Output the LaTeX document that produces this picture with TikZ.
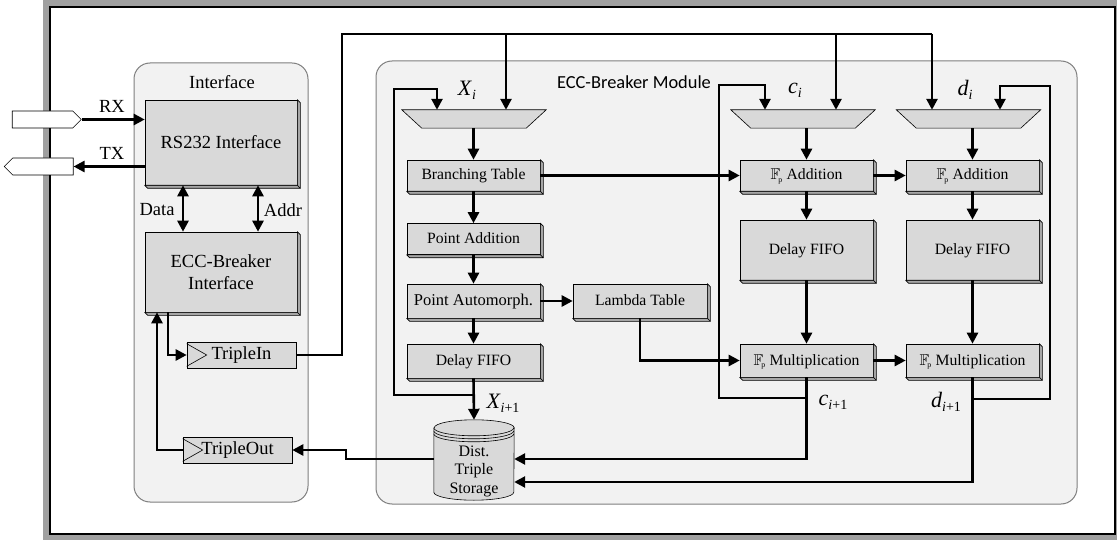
\documentclass[tikz,border=0pt]{standalone}
\usepackage{fontspec}
\setmainfont{Liberation Serif}
\newfontfamily\carlitofont{Carlito}
\usepackage{amssymb}
\usetikzlibrary{arrows.meta,shapes.symbols}
\definecolor{boxg}{HTML}{D9D9D9}
\definecolor{shadg}{HTML}{A6A6A6}
\definecolor{contg}{HTML}{F2F2F2}
\definecolor{frameg}{HTML}{A0A0A0}
\definecolor{contline}{HTML}{7F7F7F}
\newcommand\mylab[2]{\fontsize{22}{22}\selectfont\textit{#1}\raisebox{-0.4ex}{\fontsize{14}{14}\selectfont #2}}
\newcommand\Fp{$\mathbb{F}_{\!\scriptscriptstyle\mathrm{p}}$}
\tikzset{
  blk/.style={draw=black, line width=0.6pt, fill=boxg, inner sep=0pt,
    minimum width=133pt, minimum height=31pt, font=\fontsize{15.7}{17}\selectfont,
    text height=11.5pt, text depth=2.5pt},
  bigblk/.style={blk, minimum width=152pt, align=center, font=\fontsize{18.5}{22}\selectfont,
    text height=, text depth=},
  regbox/.style={draw=black, line width=0.6pt, fill=boxg, inner sep=0pt,
    minimum width=109pt, minimum height=26pt, font=\fontsize{18.5}{20}\selectfont},
  muxbox/.style={draw=none, inner sep=0pt, minimum width=144pt, minimum height=18pt},
  cont/.style={draw=contline, line width=1pt, fill=contg, rounded corners=16pt},
  port/.style={signal, draw=black, line width=0.6pt, fill=white, inner sep=0pt,
    minimum width=69pt, minimum height=17pt},
  bevel/.style={fill=shadg, draw=black, line width=0.6pt, line join=round},
  ln/.style={line width=2.6pt},
  arr/.style={line width=2.6pt, -{Triangle[length=11pt,width=11pt]}},
  darr/.style={line width=2.6pt, {Triangle[length=11pt,width=11pt]}-{Triangle[length=11pt,width=11pt]}},
  lbl/.style={font=\fontsize{18.5}{20}\selectfont, inner sep=0pt},
}
\begin{document}
\begin{tikzpicture}[x=1pt,y=-1pt]
\useasboundingbox (0,0) rectangle (1117,540);
% outer frame
\fill[frameg] (43,0) rectangle (1117,540);
\draw[fill=white, line width=1.2pt] (50,7) rectangle (1115,534);
% containers
\draw[cont] (134,63) rectangle (308,502);
\draw[cont] (376,61) rectangle (1077,504);
\node[lbl] (tif) at (222,82) {Interface};
\node[inner sep=0pt, font=\carlitofont\fontsize{18.4}{20}\selectfont] (tmod) at (634,82) {ECC-Breaker Module};

% interface blocks
\node[bigblk, minimum height=85pt] (rs232) at (221,142.5) {RS232 Interface};
\node[bigblk, minimum height=80pt] (eccif) at (221,272) {ECC-Breaker\\Interface};
\node[regbox] (tin) at (241.5,355) {TripleIn};
\node[regbox] (tout) at (237.5,450) {TripleOut};
\draw[line width=0.6pt] ([yshift=-2pt]tin.north west) -- ([xshift=20pt]tin.west) -- ([yshift=2pt]tin.south west);
\draw[line width=0.6pt] ([yshift=-2pt]tout.north west) -- ([xshift=20pt]tout.west) -- ([yshift=2pt]tout.south west);

% ports
\node[port, signal to=east] (rxp) at (42.5,119.5) {};
\node[port, signal to=west] (txp) at (43,166.5) {};
\node[lbl] (rxl) at (112,106) {RX};
\node[lbl] (txl) at (112,153) {TX};

% module blocks
\node[blk] (bt) at (473.5,175.5) {Branching Table};
\node[blk] (pa) at (473.5,239) {Point Addition};
\node[blk, minimum height=34pt, font=\fontsize{16.5}{18}\selectfont] (pam) at (473.5,301) {Point Automorph.};
\node[blk, minimum height=34pt] (dfx) at (473.5,361) {Delay FIFO};
\node[blk, minimum height=34pt, minimum width=134pt] (lt) at (640,301) {Lambda Table};
\node[blk] (cadd) at (806.5,175.5) {\Fp{} Addition};
\node[blk, minimum height=60pt] (cdf) at (806.5,250) {Delay FIFO};
\node[blk, minimum height=33pt] (cmul) at (806.5,360.5) {\Fp{} Multiplication};
\node[blk] (dadd) at (972.5,175.5) {\Fp{} Addition};
\node[blk, minimum height=60pt] (ddf) at (972.5,250) {Delay FIFO};
\node[blk, minimum height=33pt] (dmul) at (972.5,360.5) {\Fp{} Multiplication};
% 3D bevels
\foreach \b in {rs232,eccif,bt,pa,pam,dfx,lt,cadd,cdf,cmul,dadd,ddf,dmul}{
  \draw[bevel] (\b.north east) -- ([shift={(3pt,-3pt)}]\b.north east) -- ([shift={(3pt,-3pt)}]\b.south east) -- (\b.south east) -- cycle;
  \draw[bevel] (\b.south west) -- (\b.south east) -- ([shift={(3pt,-3pt)}]\b.south east) -- ([shift={(3pt,-3pt)}]\b.south west) -- cycle;
}

% muxes
\node[muxbox] (mx) at (474,119) {};
\node[muxbox] (mc) at (803,119) {};
\node[muxbox] (md) at (968.5,119) {};
\foreach \m in {mx,mc,md}
  \draw[fill=boxg, line width=0.6pt] (\m.north west) -- (\m.north east) -- ([xshift=-20pt]\m.south east) -- ([xshift=20pt]\m.south west) -- cycle;
\node[inner sep=0pt] (lxi) at (467,90) {\mylab{X}{\textit{i}}};
\node[inner sep=0pt] (lci) at (795,90) {\mylab{c}{\textit{i}}};
\node[inner sep=0pt] (ldi) at (965,90) {\mylab{d}{\textit{i}}};
\node[inner sep=0pt] (lxo) at (503,403) {\mylab{X}{\textit{i}+1}};
\node[inner sep=0pt] (lco) at (833,402) {\mylab{c}{\textit{i}+1}};
\node[inner sep=0pt] (ldo) at (946,402) {\mylab{d}{\textit{i}+1}};

% storage cylinder
\node[draw=none, inner sep=0pt, minimum width=80pt, minimum height=80pt] (storage) at (474,460) {};
\filldraw[fill=boxg, draw=black, line width=0.6pt] ([yshift=-8pt]storage.north west) -- ([yshift=8pt]storage.south west)
  arc[start angle=180, end angle=360, x radius=40pt, y radius=8pt] -- ([yshift=-8pt]storage.north east)
  arc[start angle=0, end angle=180, x radius=40pt, y radius=8pt] -- cycle;
\foreach \s in {8,11,14}
  \draw[line width=0.6pt] ([yshift=-\s pt]storage.north west) arc[start angle=180, end angle=360, x radius=40pt, y radius=8pt];
\node[inner sep=0pt, align=center, font=\fontsize{16}{18.5}\selectfont] (stl) at (474,471) {Dist.\\Triple\\Storage};

% interface connectors
\draw[arr] (rxp.east) -- (rxp.east -| rs232.west);
\draw[arr] (txp.east -| rs232.west) -- (txp.east);
\draw[darr] ([xshift=-38pt]rs232.south) -- ([xshift=-38pt]eccif.north);
\draw[darr] ([xshift=37pt]rs232.south) -- ([xshift=37pt]eccif.north);
\node[lbl] (ldata) at (157,210) {Data};
\node[lbl] (laddr) at (283,210) {Addr};
\draw[arr] ([xshift=-53pt]eccif.south) |- (tin.west);
\draw[arr] (tout.west) -| ([xshift=-64pt]eccif.south);

% bus from TripleIn
\coordinate (bus) at (342,34);
\coordinate (busx) at (506,34);
\coordinate (busc) at (836,34);
\coordinate (busd) at (932,34);
\draw[ln] (tin.east) -| (bus) -- (busd);
\draw[arr] (busx) -- (busx |- mx.north);
\draw[arr] (busc) -- (busc |- mc.north);
\draw[arr] (busd) -- (busd |- md.north);

% X column
\draw[arr] (mx.south -| bt.north) -- (bt.north);
\draw[arr] (bt.south) -- (pa.north);
\draw[arr] (pa.south) -- (pam.north);
\draw[arr] (pam.south) -- (dfx.north);
\draw[arr] (pam.east) -- (lt.west);
\draw[arr] (dfx.south) -- (storage.north);
\coordinate (xl) at (394,395);
\coordinate (xli) at (437,89);
\draw[arr] (dfx.south |- xl) -- (xl) |- (xli) -- (xli |- mx.north);

% c column
\draw[arr] (bt.east) -- (cadd.west);
\draw[arr] (lt.south) |- (cmul.west);
\draw[arr] (mc.south -| cadd.north) -- (cadd.north);
\draw[arr] (cadd.south) -- (cdf.north);
\draw[arr] (cdf.south) -- (cmul.north);
\coordinate (cl) at (719,398);
\coordinate (cli) at (765,85);
\draw[arr] (cmul.south |- cl) -- (cl) |- (cli) -- (cli |- mc.north);
\draw[arr] (cmul.south) |- ([yshift=1pt]storage.east);

% d column
\draw[arr] (cadd.east) -- (dadd.west);
\draw[arr] (cmul.east) -- (dmul.west);
\draw[arr] (md.south -| dadd.north) -- (dadd.north);
\draw[arr] (dadd.south) -- (ddf.north);
\draw[arr] (ddf.south) -- (dmul.north);
\coordinate (dl) at (1050,399);
\coordinate (dli) at (1000,86);
\draw[arr] (dmul.south |- dl) -- (dl) |- (dli) -- (dli |- md.north);
\draw[arr] (dmul.south) |- ([yshift=-22pt]storage.east);

% storage to TripleOut
\coordinate (tj) at (346,450);
\draw[arr] ([yshift=1pt]storage.west) -| (tj) -- (tout.east);
\end{tikzpicture}
\end{document}
